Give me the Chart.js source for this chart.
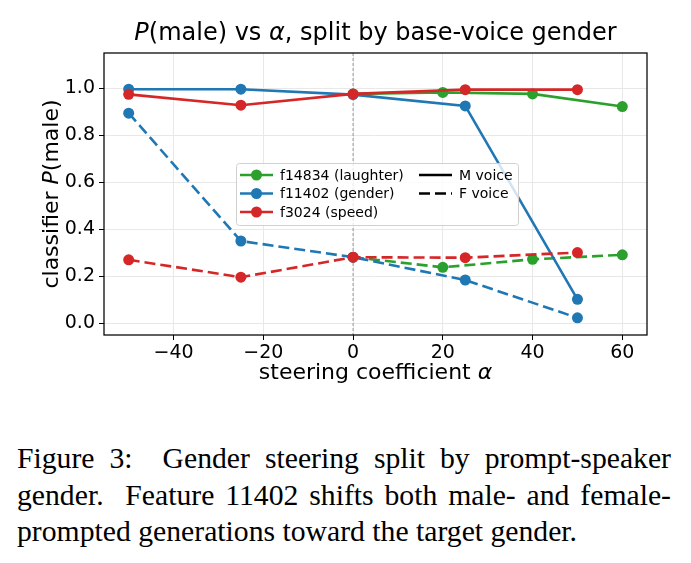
<!DOCTYPE html>
<html lang="en">
<head>
  <meta charset="UTF-8" />
  <title>P(male) vs alpha, split by base-voice gender</title>
  <style>
    body { margin: 0; background: #fff; }
    #wrap { position: relative; width: 691px; height: 563px; }
    #myChart { position: absolute; left: 0; top: 0; }
    #caption {
      position: absolute; left: 17px; top: 440px; width: 654px;
      font-family: "Liberation Serif", "Times New Roman", serif;
      font-size: 29.7px; line-height: 36.7px; color: #000;
    }
    #caption div { text-align: justify; text-align-last: justify; white-space: nowrap; }
    #caption div.last { text-align-last: left; }
  </style>
</head>
<body>
  <div id="wrap">
    <canvas id="myChart" width="691" height="400"></canvas>
    <div id="caption">
      <div>Figure 3:&nbsp; Gender steering split by prompt-speaker</div>
      <div>gender.&nbsp; Feature 11402 shifts both male- and female-</div>
      <div class="last">prompted generations toward the target gender.</div>
    </div>
  </div>

  <script src="https://cdn.jsdelivr.net/npm/chart.js"></script>
  <script>
    // values
    const laughterAlpha = [0, 20, 40, 60];
    const laughterM = [0.976, 0.982, 0.976, 0.922];
    const laughterF = [0.281, 0.238, 0.272, 0.291];

    const alphas = [-50, -25, 0, 25, 50];
    const genderM = [0.996, 0.996, 0.973, 0.925, 0.102];
    const genderF = [0.894, 0.350, 0.281, 0.184, 0.023];
    const speedM = [0.974, 0.928, 0.976, 0.994, 0.994];
    const speedF = [0.270, 0.196, 0.281, 0.279, 0.301];

    const featureNames = ['f14834 (laughter)', 'f11402 (gender)', 'f3024 (speed)'];
    const voiceNames = ['M voice', 'F voice'];
    const colors = ['#2ca02c', '#1f77b4', '#d62728'];

    const xTicks = [-40, -20, 0, 20, 40, 60];
    const yTicks = [0.0, 0.2, 0.4, 0.6, 0.8, 1.0];
    const zeroLine = 0;

    const FONT = 'DejaVu Sans';
    const DASH = [11, 5];

    const pts = (xs, ys) => xs.map((x, i) => ({ x: x, y: ys[i] }));

    function series(label, xs, ys, color, dashed, order) {
      return {
        label: label,
        data: pts(xs, ys),
        borderColor: color,
        backgroundColor: color,
        borderWidth: 2.6,
        borderDash: dashed ? DASH : [],
        pointRadius: 5.5,
        pointBorderWidth: 0,
        pointBackgroundColor: color,
        tension: 0,
        order: order
      };
    }

    // draw text made of plain / italic pieces, centred on x
    function drawRuns(ctx, runs, x, y, size) {
      let total = 0;
      runs.forEach(r => {
        ctx.font = (r.it ? 'italic ' : '') + size + 'px "' + FONT + '"';
        total += ctx.measureText(r.t).width;
      });
      let cx = x - total / 2;
      ctx.textAlign = 'left';
      runs.forEach(r => {
        ctx.font = (r.it ? 'italic ' : '') + size + 'px "' + FONT + '"';
        ctx.fillText(r.t, cx, y);
        cx += ctx.measureText(r.t).width;
      });
    }

    const decor = {
      id: 'decor',
      beforeDatasetsDraw(chart) {
        const { ctx, chartArea: a, scales } = chart;
        const px = scales.x.getPixelForValue(zeroLine);
        ctx.save();
        ctx.strokeStyle = '#808080';
        ctx.lineWidth = 0.8;
        ctx.setLineDash([3, 2]);
        ctx.beginPath();
        ctx.moveTo(px, a.top);
        ctx.lineTo(px, a.bottom);
        ctx.stroke();
        ctx.restore();
      },
      afterDraw(chart) {
        const { ctx, chartArea: a } = chart;
        ctx.save();

        // frame
        ctx.strokeStyle = '#000';
        ctx.lineWidth = 1.25;
        ctx.strokeRect(a.left, a.top, a.right - a.left, a.bottom - a.top);

        // legend box
        const lx = a.left + 132, ly = a.top + 110, lw = 282, lh = 62;
        ctx.fillStyle = 'rgba(255,255,255,0.8)';
        ctx.strokeStyle = '#d0d0d0';
        ctx.lineWidth = 1;
        ctx.beginPath();
        ctx.roundRect(lx + 0.5, ly + 0.5, lw, lh, 3);
        ctx.fill();
        ctx.stroke();

        ctx.textBaseline = 'middle';
        ctx.textAlign = 'left';
        ctx.font = '14px "' + FONT + '"';
        featureNames.forEach((name, i) => {
          const ry = ly + 12 + i * 18.5;
          ctx.strokeStyle = colors[i];
          ctx.lineWidth = 2.6;
          ctx.beginPath();
          ctx.moveTo(lx + 4, ry);
          ctx.lineTo(lx + 37, ry);
          ctx.stroke();
          ctx.fillStyle = colors[i];
          ctx.beginPath();
          ctx.arc(lx + 20.5, ry, 5.5, 0, Math.PI * 2);
          ctx.fill();
          ctx.fillStyle = '#000';
          ctx.fillText(name, lx + 44, ry + 1);
        });
        voiceNames.forEach((name, i) => {
          const ry = ly + 12 + i * 18.5;
          ctx.strokeStyle = '#000';
          ctx.lineWidth = 2.6;
          ctx.setLineDash(i === 1 ? DASH : []);
          ctx.beginPath();
          ctx.moveTo(lx + 183, ry);
          ctx.lineTo(lx + 216, ry);
          ctx.stroke();
          ctx.setLineDash([]);
          ctx.fillStyle = '#000';
          ctx.fillText(name, lx + 223, ry + 1);
        });

        // title
        ctx.fillStyle = '#000';
        ctx.textBaseline = 'alphabetic';
        const midX = (a.left + a.right) / 2;
        drawRuns(ctx, [{ t: 'P', it: true }, { t: '(male) vs ' }, { t: '\u03b1', it: true },
          { t: ', split by base-voice gender' }], midX, 39.5, 24);

        // x axis label
        drawRuns(ctx, [{ t: 'steering coefficient ' }, { t: '\u03b1', it: true }], midX, 379, 22);

        // y axis label
        ctx.translate(57.5, (a.top + a.bottom) / 2);
        ctx.rotate(-Math.PI / 2);
        drawRuns(ctx, [{ t: 'classifier ' }, { t: 'P', it: true }, { t: '(male)' }], 0, 0, 22);
        ctx.restore();
      }
    };

    const ctx = document.getElementById('myChart');

    new Chart(ctx, {
      type: 'line',
      data: {
        datasets: [
          series(featureNames[0] + ' M', laughterAlpha, laughterM, colors[0], false, 6),
          series(featureNames[0] + ' F', laughterAlpha, laughterF, colors[0], true, 5),
          series(featureNames[1] + ' M', alphas, genderM, colors[1], false, 4),
          series(featureNames[1] + ' F', alphas, genderF, colors[1], true, 3),
          series(featureNames[2] + ' M', alphas, speedM, colors[2], false, 2),
          series(featureNames[2] + ' F', alphas, speedF, colors[2], true, 1)
        ]
      },
      options: {
        responsive: false,
        animation: false,
        devicePixelRatio: 1,
        layout: { padding: { top: 53, right: 44, left: 0, bottom: 0 } },
        plugins: { legend: { display: false }, tooltip: { enabled: false }, title: { display: false } },
        scales: {
          x: {
            type: 'linear',
            min: -55.5,
            max: 65.5,
            afterBuildTicks: s => { s.ticks = xTicks.map(v => ({ value: v })); },
            afterFit: s => { s.height = 65; },
            ticks: {
              font: { family: FONT, size: 19 },
              color: '#000',
              padding: 2,
              maxRotation: 0,
              autoSkip: false,
              callback: v => (v < 0 ? '\u2212' + Math.abs(v) : '' + v)
            },
            grid: { color: '#e8e8e8', tickColor: '#000', tickLength: 5, lineWidth: 1 },
            border: { display: false }
          },
          y: {
            min: -0.05,
            max: 1.15,
            afterBuildTicks: s => { s.ticks = yTicks.map(v => ({ value: v })); },
            afterFit: s => { s.width = 104; },
            ticks: {
              font: { family: FONT, size: 19 },
              color: '#000',
              padding: 4,
              callback: v => v.toFixed(1)
            },
            grid: { color: '#e8e8e8', tickColor: '#000', tickLength: 5, lineWidth: 1 },
            border: { display: false }
          }
        }
      },
      plugins: [decor]
    });
  </script>
</body>
</html>
